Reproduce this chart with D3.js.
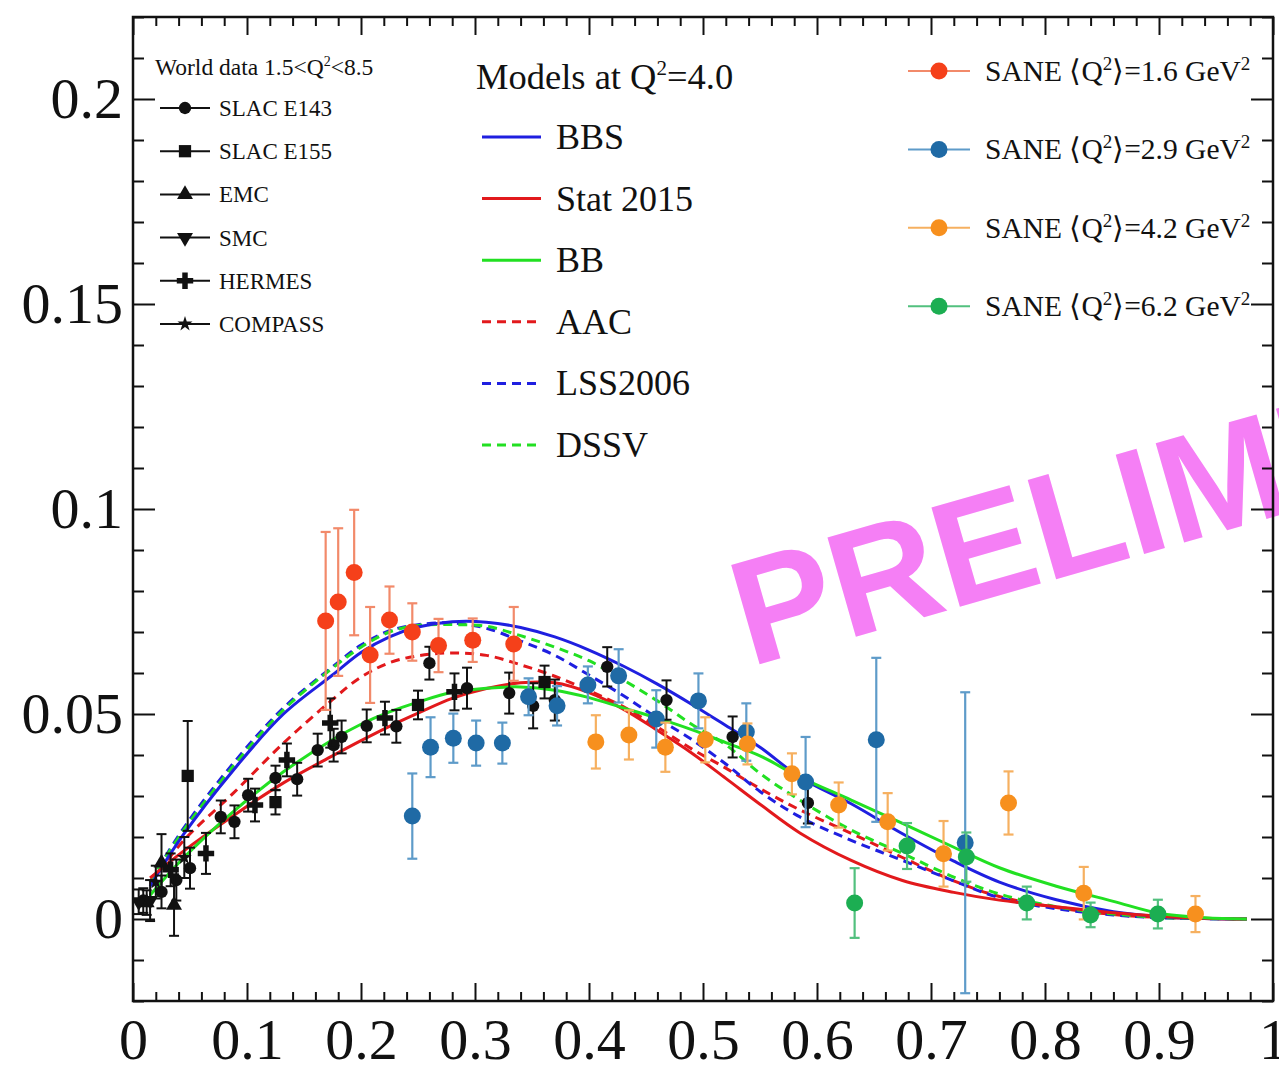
<!DOCTYPE html>
<html><head><meta charset="utf-8">
<script src="https://cdn.jsdelivr.net/npm/d3@7"></script>
<style>
body{margin:0;background:#fff;}
text{font-family:"Liberation Serif","Times New Roman",serif;fill:#111;}
</style>
</head><body>
<svg id="c" width="1279" height="1066"></svg>
<script>
// ---------- axis ticks ----------
const xMajorTicks = [0,0.1,0.2,0.3,0.4,0.5,0.6,0.7,0.8,0.9,1];
const xTickLabels = ["0","0.1","0.2","0.3","0.4","0.5","0.6","0.7","0.8","0.9","1"];
const yMajorTicks = [0,0.05,0.1,0.15,0.2];
const yTickLabels = ["0","0.05","0.1","0.15","0.2"];

// ---------- model curves (Q^2 = 4.0) ----------
const modelX    = [0.015,0.044,0.088,0.132,0.175,0.20,0.225,0.25,0.28,0.31,0.34,0.37,0.40,0.43,0.46,0.49,0.52,0.55,0.585,0.63,0.675,0.72,0.76,0.81,0.86,0.90,0.94,0.977];
const bbsY      = [0.0080,0.0205,0.0363,0.0500,0.0595,0.0650,0.0688,0.0712,0.0725,0.0724,0.0711,0.0688,0.0656,0.0617,0.0573,0.0524,0.0472,0.0419,0.0346,0.0281,0.0208,0.0141,0.0090,0.0047,0.0018,0.0006,0.0001,0];
const stat2015Y = [0.0100,0.0165,0.0252,0.0332,0.0398,0.0435,0.0470,0.0502,0.0538,0.0562,0.0576,0.0576,0.0552,0.0512,0.0460,0.0405,0.0343,0.0280,0.0210,0.0143,0.0094,0.0065,0.0046,0.0030,0.0015,0.0007,0.0002,0];
const bbY       = [0.0058,0.0148,0.0262,0.0359,0.0437,0.0475,0.0505,0.0529,0.0553,0.0563,0.0566,0.0558,0.0540,0.0515,0.0490,0.0462,0.0430,0.0398,0.0346,0.0290,0.0233,0.0175,0.0125,0.0080,0.0043,0.0014,0.0003,0];
const aacY      = [0.0085,0.0190,0.0307,0.0429,0.0535,0.0590,0.0625,0.0642,0.0649,0.0643,0.0620,0.0592,0.0557,0.0518,0.0468,0.0415,0.0368,0.0318,0.0266,0.0209,0.0150,0.0093,0.0055,0.0028,0.0011,0.0004,0.0001,0];
const lssY      = [0.0090,0.0220,0.0380,0.0515,0.0615,0.0668,0.0703,0.0718,0.0722,0.0709,0.0678,0.0643,0.0595,0.0545,0.0490,0.0438,0.0378,0.0311,0.0249,0.0192,0.0143,0.0093,0.0052,0.0025,0.0010,0.0003,0.0001,0];
const dssvY     = [0.0090,0.0215,0.0373,0.0510,0.0612,0.0663,0.0700,0.0716,0.0718,0.0714,0.0691,0.0663,0.0630,0.0583,0.0532,0.0475,0.0425,0.0355,0.0290,0.0217,0.0160,0.0102,0.0061,0.0030,0.0012,0.0004,0.0001,0];
const modelNames  = ["BBS","Stat 2015","BB","AAC","LSS2006","DSSV"];
const modelColors = ["#1f1fe0","#e2191c","#22e022","#e2191c","#1f1fe0","#22e022"];
const modelDashed = [false,false,false,true,true,true];

// ---------- SANE data ----------
const sane16X = [0.169,0.180,0.194,0.208,0.225,0.245,0.268,0.298,0.334];
const sane16Y = [0.0727,0.0773,0.0845,0.0644,0.0729,0.0700,0.0667,0.0680,0.0671];
const sane16E = [0.0217,0.0180,0.0153,0.0117,0.0082,0.0070,0.0065,0.0053,0.0090];
const sane29X = [0.245,0.261,0.281,0.301,0.324,0.347,0.372,0.399,0.426,0.459,0.496,0.538,0.590,0.652,0.730];
const sane29Y = [0.0251,0.0419,0.0441,0.0429,0.0429,0.0542,0.0520,0.0571,0.0593,0.0488,0.0532,0.0456,0.0334,0.0437,0.0186];
const sane29E = [0.0104,0.0073,0.0060,0.0055,0.0050,0.0045,0.0048,0.0045,0.0065,0.0070,0.0067,0.0070,0.0110,0.0200,0.0367];
const sane42X = [0.406,0.435,0.467,0.502,0.539,0.578,0.619,0.662,0.711,0.768,0.834,0.932];
const sane42Y = [0.0432,0.0449,0.0419,0.0437,0.0427,0.0354,0.0278,0.0237,0.0159,0.0283,0.0063,0.0012];
const sane42E = [0.0065,0.0060,0.0060,0.0055,0.0050,0.0050,0.0055,0.0070,0.0080,0.0077,0.0064,0.0044];
const sane62X = [0.633,0.679,0.731,0.784,0.840,0.899];
const sane62Y = [0.0039,0.0178,0.0151,0.0039,0.0010,0.0012];
const sane62E = [0.0085,0.0056,0.0060,0.0040,0.0030,0.0035];
const saneLabels = ["1.6","2.9","4.2","6.2"];
const saneColors = ["#f5401a","#1f6aa5","#f7901e","#1cae52"];
const saneBarColors = ["#f28a6a","#5e9bc9","#f6b060","#52c07e"];

// ---------- world data 1.5<Q^2<8.5 : [x, y, err] ----------
const slacE143 = [[0.009,0.0045,0.003],[0.025,0.0066,0.004],[0.038,0.0095,0.005],[0.050,0.0124,0.005],[0.077,0.0249,0.004],[0.089,0.0237,0.004],[0.101,0.0302,0.004],[0.125,0.0344,0.003],[0.144,0.0341,0.004],[0.162,0.0412,0.004],[0.176,0.0424,0.004],[0.183,0.0444,0.004],[0.205,0.0471,0.004],[0.231,0.0470,0.004],[0.260,0.0624,0.004],[0.293,0.0563,0.005],[0.330,0.0551,0.005],[0.351,0.0520,0.0055],[0.370,0.0534,0.005],[0.416,0.0615,0.0048],[0.468,0.0534,0.0048],[0.526,0.0444,0.005],[0.592,0.0283,0.005]];
const slacE155 = [[0.048,0.0349,0.0134],[0.125,0.0285,0.003],[0.250,0.0522,0.0035],[0.361,0.0578,0.004]];
const emc      = [[0.012,0.0040,0.003],[0.025,0.0137,0.007],[0.036,0.0034,0.0075]];
const smc      = [[0.005,0.0042,0.003],[0.015,0.0045,0.005]];
const hermes   = [[0.033,0.0120,0.004],[0.064,0.0160,0.005],[0.107,0.0278,0.004],[0.135,0.0388,0.004],[0.173,0.0478,0.006],[0.221,0.0490,0.004],[0.282,0.0554,0.0045]];
const compass  = [[0.020,0.0090,0.004],[0.045,0.0150,0.005]];
const worldNames = ["SLAC E143","SLAC E155","EMC","SMC","HERMES","COMPASS"];

// ---------- layout ----------
const svg = d3.select("#c");
const L = 133, R = 1273, T = 17, B = 1001;
const x = d3.scaleLinear().domain([0,1]).range([L,R]);
const y = d3.scaleLinear().domain([-0.02,0.22]).range([B,T]);

svg.append("rect").attr("width",1279).attr("height",1066).attr("fill","#fff");

// watermark
svg.append("text").text("PRELIMINARY")
  .attr("transform","translate(750,667) rotate(-16)")
  .style("font-family","'Liberation Sans',Arial,sans-serif").style("font-weight","bold")
  .style("font-size","150px").style("fill","#f57ff5");

// axes
const range = (a,b,s)=>d3.range(Math.round((b-a)/s)+1).map(i=>+(a+i*s).toFixed(4));
const xMinor = range(0,1,0.02).filter(v=>!xMajorTicks.some(m=>Math.abs(m-v)<1e-6));
const yMinor = range(-0.02,0.22,0.01).filter(v=>!yMajorTicks.some(m=>Math.abs(m-v)<1e-6));
const fmtX = v=>xTickLabels[xMajorTicks.findIndex(m=>Math.abs(m-v)<1e-6)];
const fmtY = v=>yTickLabels[yMajorTicks.findIndex(m=>Math.abs(m-v)<1e-6)];
function styleAxis(g){ g.select(".domain").remove(); g.selectAll("line").attr("stroke","#111").attr("stroke-width",2); g.selectAll("text").style("font-size","58px").attr("fill","#111"); }
svg.append("g").attr("transform",`translate(0,${B})`).call(d3.axisBottom(x).tickValues(xMajorTicks).tickSize(-18).tickPadding(17).tickFormat(fmtX)).call(styleAxis);
svg.append("g").attr("transform",`translate(0,${B})`).call(d3.axisBottom(x).tickValues(xMinor).tickSize(-9).tickFormat("")).call(styleAxis);
svg.append("g").attr("transform",`translate(0,${T})`).call(d3.axisTop(x).tickValues(xMajorTicks).tickSize(-18).tickFormat("")).call(styleAxis);
svg.append("g").attr("transform",`translate(0,${T})`).call(d3.axisTop(x).tickValues(xMinor).tickSize(-9).tickFormat("")).call(styleAxis);
svg.append("g").attr("transform",`translate(${L},0)`).call(d3.axisLeft(y).tickValues(yMajorTicks).tickSize(-22).tickPadding(10).tickFormat(fmtY)).call(styleAxis);
svg.append("g").attr("transform",`translate(${L},0)`).call(d3.axisLeft(y).tickValues(yMinor).tickSize(-11).tickFormat("")).call(styleAxis);
svg.append("g").attr("transform",`translate(${R},0)`).call(d3.axisRight(y).tickValues(yMajorTicks).tickSize(-22).tickFormat("")).call(styleAxis);
svg.append("g").attr("transform",`translate(${R},0)`).call(d3.axisRight(y).tickValues(yMinor).tickSize(-11).tickFormat("")).call(styleAxis);
svg.append("rect").attr("x",L).attr("y",T).attr("width",R-L).attr("height",B-T).attr("fill","none").attr("stroke","#111").attr("stroke-width",2.5);

// clip
svg.append("clipPath").attr("id","pc").append("rect").attr("x",L).attr("y",T).attr("width",R-L).attr("height",B-T);
const plot = svg.append("g").attr("clip-path","url(#pc)");

// model curves
const modelYs = [bbsY,stat2015Y,bbY,aacY,lssY,dssvY];
const line = d3.line().x(d=>x(d[0])).y(d=>y(d[1])).curve(d3.curveCatmullRom.alpha(0.5));
[3,4,5,0,1,2].forEach(i=>{
  plot.append("path").datum(modelX.map((v,k)=>[v,modelYs[i][k]]))
    .attr("d",line).attr("fill","none").attr("stroke",modelColors[i]).attr("stroke-width",3)
    .attr("stroke-dasharray",modelDashed[i]?"9,6":null);
});

// error bars helper
function errBars(g, pts, color, w){
  pts.forEach(p=>{
    const gx = x(p[0]), y1 = y(p[1]-p[2]), y2 = y(p[1]+p[2]);
    g.append("line").attr("x1",gx).attr("x2",gx).attr("y1",y1).attr("y2",y2).attr("stroke",color).attr("stroke-width",w);
    [y1,y2].forEach(yy=>g.append("line").attr("x1",gx-5).attr("x2",gx+5).attr("y1",yy).attr("y2",yy).attr("stroke",color).attr("stroke-width",w));
  });
}

// world data
const worldSets = [slacE143,slacE155,emc,smc,hermes,compass];
const worldSym = [
  {t:d3.symbolCircle,s:120,r:0},{t:d3.symbolSquare,s:150,r:0},{t:d3.symbolTriangle,s:110,r:0},
  {t:d3.symbolTriangle,s:110,r:180},{t:d3.symbolCross,s:150,r:0},{t:d3.symbolStar,s:70,r:0}];
const wg = plot.append("g");
worldSets.forEach((set,i)=>{
  errBars(wg,set,"#111",2);
  set.forEach(p=>wg.append("path").attr("d",d3.symbol(worldSym[i].t,worldSym[i].s)())
    .attr("transform",`translate(${x(p[0])},${y(p[1])}) rotate(${worldSym[i].r})`).attr("fill","#111"));
});

// SANE data
const saneSets = [[sane16X,sane16Y,sane16E],[sane29X,sane29Y,sane29E],[sane42X,sane42Y,sane42E],[sane62X,sane62Y,sane62E]];
saneSets.forEach((s,i)=>{
  const g = plot.append("g");
  const pts = s[0].map((v,k)=>[v,s[1][k],s[2][k]]);
  errBars(g,pts,saneBarColors[i],2.2);
  g.selectAll("circle").data(pts).join("circle").attr("cx",d=>x(d[0])).attr("cy",d=>y(d[1])).attr("r",8.5).attr("fill",saneColors[i]);
});

// ---------- legends ----------
// world data legend
const lg1 = svg.append("g");
lg1.append("text").attr("x",155).attr("y",75).style("font-size","23.5px")
  .call(t=>{t.append("tspan").text("World data 1.5<Q");t.append("tspan").attr("dy",-9).style("font-size","14px").text("2");t.append("tspan").attr("dy",9).text("<8.5");});
worldNames.forEach((n,i)=>{
  const yy = 108 + i*43.2;
  lg1.append("line").attr("x1",160).attr("x2",210).attr("y1",yy).attr("y2",yy).attr("stroke","#111").attr("stroke-width",2);
  lg1.append("path").attr("d",d3.symbol(worldSym[i].t,worldSym[i].s)()).attr("transform",`translate(185,${yy}) rotate(${worldSym[i].r})`).attr("fill","#111");
  lg1.append("text").attr("x",219).attr("y",yy+8).style("font-size","23px").text(n);
});

// model legend
const lg2 = svg.append("g");
lg2.append("text").attr("x",476).attr("y",89).style("font-size","36.5px")
  .call(t=>{t.append("tspan").text("Models at Q");t.append("tspan").attr("dy",-14).style("font-size","21px").text("2");t.append("tspan").attr("dy",14).text("=4.0");});
modelNames.forEach((n,i)=>{
  const yy = 137 + i*61.6;
  lg2.append("line").attr("x1",482).attr("x2",541).attr("y1",yy).attr("y2",yy).attr("stroke",modelColors[i]).attr("stroke-width",3)
    .attr("stroke-dasharray",modelDashed[i]?"9,6":null);
  lg2.append("text").attr("x",556).attr("y",yy+12).style("font-size","36px").text(n);
});

// SANE legend
const lg3 = svg.append("g");
saneLabels.forEach((q,i)=>{
  const yy = 71 + i*78.4;
  lg3.append("line").attr("x1",908).attr("x2",970).attr("y1",yy).attr("y2",yy).attr("stroke",saneBarColors[i]).attr("stroke-width",2);
  lg3.append("circle").attr("cx",939).attr("cy",yy).attr("r",8.5).attr("fill",saneColors[i]);
  lg3.append("text").attr("x",985).attr("y",yy+10).style("font-size","29.5px")
    .call(t=>{t.append("tspan").text("SANE \u27E8Q");t.append("tspan").attr("dy",-11).style("font-size","19px").text("2");
      t.append("tspan").attr("dy",11).text("\u27E9="+q+" GeV");t.append("tspan").attr("dy",-11).style("font-size","19px").text("2");});
});
</script>
</body></html>
